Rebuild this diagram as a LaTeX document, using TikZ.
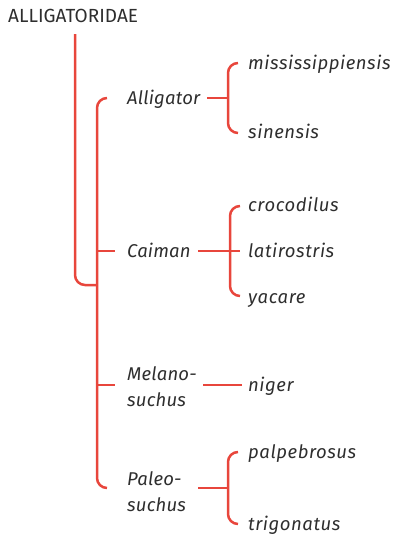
\documentclass[tikz,border=0pt]{standalone}
\usepackage{fontspec}
\setmainfont{Fira Sans}
\definecolor{treered}{HTML}{E8463C}
\definecolor{txt}{HTML}{2E2E2E}
\begin{document}
\begin{tikzpicture}[x=1pt,y=-1pt,
  branch/.style={draw=treered,line width=2.5pt,rounded corners=10pt},
  taxon/.style={anchor=mid west,inner sep=0pt,yshift=-4pt,text=txt,font=\fontsize{18.5}{26}\selectfont\itshape\addfontfeatures{LetterSpace=3}},
  genus/.style={taxon,font=\fontsize{18.5}{26}\selectfont\itshape\addfontfeatures{LetterSpace=1}},
  genus2/.style={anchor=west,inner sep=0pt,yshift=-1pt,text=txt,font=\fontsize{18.5}{26}\selectfont\itshape\addfontfeatures{LetterSpace=1},align=left},
  family/.style={anchor=mid west,inner sep=0pt,text=txt,font=\fontsize{19}{22}\selectfont}]
\useasboundingbox (0,0) rectangle (395,536);
% labels
\node[family] (fam) at (8,20) {ALLIGATORIDAE};
\node[genus] (all) at (127,98) {Alligator};
\node[genus] (cai) at (127,251) {Caiman};
\node[genus2] (mel) at (127,386) {Melano-\\suchus};
\node[genus2] (pal) at (127,491) {Paleo-\\suchus};
\node[taxon] (mis) at (248,63) {mississippiensis};
\node[taxon] (sin) at (248,132) {sinensis};
\node[taxon] (cro) at (248,205) {crocodilus};
\node[taxon] (lat) at (248,251) {latirostris};
\node[taxon] (yac) at (248,297) {yacare};
\node[taxon] (nig) at (248,385) {niger};
\node[taxon] (pap) at (248,452) {palpebrosus};
\node[taxon] (tri) at (248,524) {trigonatus};
% coordinates
\coordinate (root) at (75,34);
\coordinate (join) at (97,285);
% main line
\draw[branch] (root) |- (join);
% genus comb
\draw[branch] (107,98) -| (join) |- (107,488);
\draw[branch] (97,251) -- (115,251);
\draw[branch] (97,385) -- (115,385);
% species brackets
\draw[branch] (238,63) -| (228,98) |- (238,133);
\draw[branch,rounded corners=0pt] (207,98) -- (228,98);
\draw[branch] (240,206) -| (230,251) |- (240,296);
\draw[branch,rounded corners=0pt] (198,251) -- (240,251);
\draw[branch] (203,385) -- (242,385);
\draw[branch] (238,452) -| (228,488) |- (238,524);
\draw[branch,rounded corners=0pt] (198,488) -- (228,488);
\end{tikzpicture}
\end{document}
